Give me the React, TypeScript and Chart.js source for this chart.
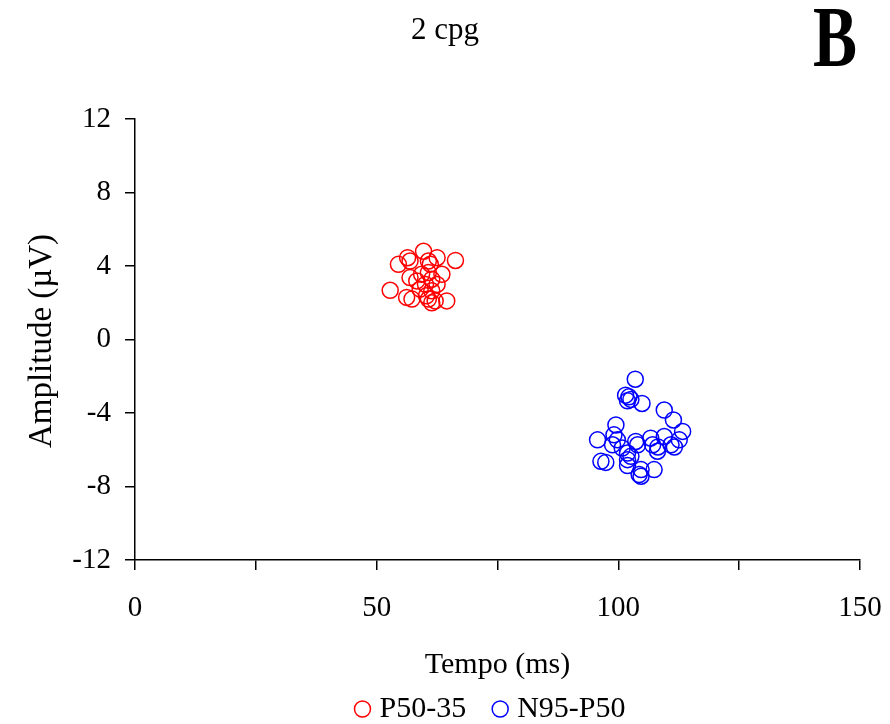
import React, { useEffect, useRef } from "react";
import { Chart, registerables } from "chart.js";

Chart.register(...registerables);

const titleText = "2 cpg";
const panelLetter = "B";
const xAxisTitle = "Tempo (ms)";
const yAxisTitle = "Amplitude (µV)";
const seriesLabels = ["P50-35", "N95-P50"];
const seriesColors = ["#ff0000", "#0000ff"];

const p50X = [59.7, 56.4, 56.9, 54.5, 62.5, 66.3, 60.7, 61.1, 63.5, 56.9, 58.3, 60.7, 61.4, 60.1, 62.5, 59.0, 61.4, 52.8, 56.2, 57.3, 60.7, 61.4, 62.1, 64.5, 60.3, 59.3];
const p50Y = [4.8, 4.45, 4.27, 4.09, 4.45, 4.3, 4.27, 4.1, 3.55, 3.37, 3.19, 3.64, 3.28, 3.0, 3.0, 2.74, 2.65, 2.68, 2.29, 2.2, 2.2, 2.0, 2.1, 2.1, 2.38, 3.55];

const n95X = [103.5, 101.5, 102.2, 102.6, 101.9, 104.9, 109.5, 111.4, 113.3, 99.5, 95.7, 99.1, 99.8, 98.8, 100.8, 103.6, 104.0, 106.7, 107.1, 108.2, 109.5, 110.9, 111.6, 112.6, 101.9, 102.6, 96.4, 97.4, 101.9, 101.9, 104.7, 107.4, 104.3, 104.7, 108.1];
const n95Y = [-2.16, -3.03, -3.12, -3.26, -3.34, -3.48, -3.84, -4.38, -5.0, -4.65, -5.46, -5.19, -5.46, -5.73, -5.91, -5.55, -5.73, -5.37, -5.73, -5.85, -5.28, -5.73, -5.85, -5.46, -6.18, -6.36, -6.63, -6.69, -6.54, -6.86, -7.08, -7.08, -7.35, -7.44, -6.08];

const FONT = "'Liberation Serif', 'Times New Roman', serif";

const textPlugin = {
  id: "textPlugin",
  afterDraw(chart: any) {
    const ctx = chart.ctx as CanvasRenderingContext2D;
    const area = chart.chartArea;
    ctx.save();
    ctx.fillStyle = "#000";
    // title
    ctx.font = `31px ${FONT}`;
    ctx.textAlign = "center";
    ctx.textBaseline = "alphabetic";
    ctx.fillText(titleText, 445, 39);
    // panel letter
    ctx.save();
    ctx.translate(835, 66);
    ctx.scale(1, 1.3);
    ctx.font = `bold 66px ${FONT}`;
    ctx.fillText(panelLetter, 0, 0);
    ctx.restore();
    // x axis title
    ctx.font = `30px ${FONT}`;
    ctx.textAlign = "center";
    ctx.fillText(xAxisTitle, (area.left + area.right) / 2, 673);
    // y axis title
    ctx.save();
    ctx.translate(51, 341);
    ctx.rotate(-Math.PI / 2);
    ctx.font = `33px ${FONT}`;
    ctx.textAlign = "center";
    ctx.fillText(yAxisTitle, 0, 0);
    ctx.restore();
    // legend
    ctx.font = `30px ${FONT}`;
    ctx.textAlign = "left";
    const ds = chart.data.datasets;
    const r = 8;
    const gapCircleText = 9;
    const gapItems = 26;
    let total = 0;
    const widths = ds.map((d: any) => ctx.measureText(d.label).width);
    widths.forEach((w: number, i: number) => {
      total += 2 * r + gapCircleText + w + (i < widths.length - 1 ? gapItems : 0);
    });
    let x = 490 - total / 2;
    const cy = 709;
    ds.forEach((d: any, i: number) => {
      ctx.beginPath();
      ctx.arc(x + r, cy, r, 0, Math.PI * 2);
      ctx.strokeStyle = d.borderColor;
      ctx.lineWidth = 1.5;
      ctx.stroke();
      ctx.fillStyle = "#000";
      ctx.fillText(d.label, x + 2 * r + gapCircleText, 717);
      x += 2 * r + gapCircleText + widths[i] + gapItems;
    });
    ctx.restore();
  },
};

function toPoints(xs: number[], ys: number[]) {
  return xs.map((x, i) => ({ x, y: ys[i] }));
}

export default function App() {
  const ref = useRef<HTMLCanvasElement | null>(null);
  useEffect(() => {
    document.body.style.margin = "0";
    if (!ref.current) return;
    const chart = new Chart(ref.current, {
      type: "scatter",
      data: {
        datasets: [
          {
            label: seriesLabels[0],
            data: toPoints(p50X, p50Y),
            borderColor: seriesColors[0],
            backgroundColor: "rgba(0,0,0,0)",
            pointRadius: 8,
            pointBorderWidth: 1.5,
            pointStyle: "circle",
          },
          {
            label: seriesLabels[1],
            data: toPoints(n95X, n95Y),
            borderColor: seriesColors[1],
            backgroundColor: "rgba(0,0,0,0)",
            pointRadius: 8,
            pointBorderWidth: 1.5,
            pointStyle: "circle",
          },
        ],
      },
      options: {
        responsive: false,
        animation: false,
        layout: { padding: { top: 119, right: 30, left: 0, bottom: 0 } },
        plugins: {
          legend: { display: false },
          title: { display: false },
          tooltip: { enabled: false },
        },
        scales: {
          x: {
            type: "linear",
            min: 0,
            max: 150,
            afterFit(scale: any) {
              scale.height = 164;
              scale.paddingLeft = 0;
              scale.paddingRight = 0;
            },
            ticks: {
              stepSize: 25,
              padding: 21,
              color: "#000",
              font: { family: FONT, size: 29 },
              callback: (v: any) => (Number(v) % 50 === 0 ? String(v) : ""),
              maxRotation: 0,
              autoSkip: false,
            },
            grid: {
              drawOnChartArea: false,
              drawTicks: true,
              tickLength: 10,
              color: "#000",
              lineWidth: 1.5,
            },
            border: { display: true, color: "#000", width: 1.5 },
          },
          y: {
            type: "linear",
            min: -12,
            max: 12,
            afterFit(scale: any) {
              scale.width = 135;
              scale.paddingTop = 0;
              scale.paddingBottom = 0;
            },
            ticks: {
              stepSize: 4,
              padding: 14,
              color: "#000",
              font: { family: FONT, size: 29 },
            },
            grid: {
              drawOnChartArea: false,
              drawTicks: true,
              tickLength: 10,
              color: "#000",
              lineWidth: 1.5,
            },
            border: { display: true, color: "#000", width: 1.5 },
          },
        },
      },
      plugins: [textPlugin],
    });
    return () => chart.destroy();
  }, []);
  return (
    <div style={{ width: 890, height: 724, background: "#fff" }}>
      <canvas ref={ref} width={890} height={724} />
    </div>
  );
}
